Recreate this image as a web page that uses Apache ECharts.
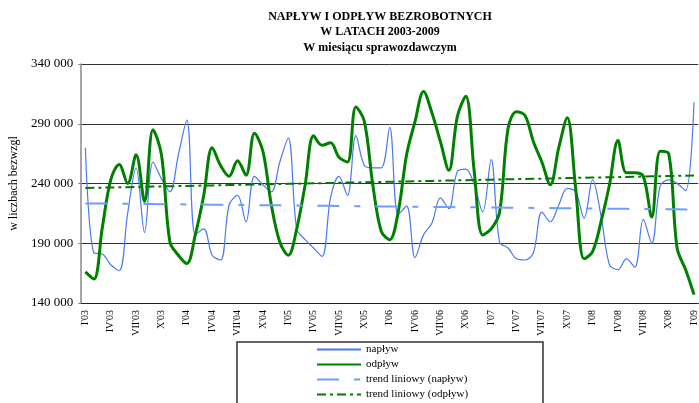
<!DOCTYPE html>
<html>
<head>
<meta charset="utf-8">
<script src="https://cdn.jsdelivr.net/npm/echarts@6/dist/echarts.min.js"></script>
<style>
html, body { margin: 0; padding: 0; background: #fff; }
#chart { width: 699px; height: 403px; }
</style>
</head>
<body>
<div id="chart"></div>
<script>
// miesiace (rzymskie) i lata na osi X: I'03 ... I'09
var romanMonths = ['I', 'II', 'III', 'IV', 'V', 'VI', 'VII', 'VIII', 'IX', 'X', 'XI', 'XII'];
var years = ['03', '04', '05', '06', '07', '08', '09'];

// napływ bezrobotnych, w tys.
var naplyw = [
	270, 182, 181, 172, 167, 215, 253, 199, 258, 244, 233, 264,
	293, 197, 202, 180, 176, 222, 230, 208, 246, 239, 233, 258,
	278, 202, 193, 186, 179, 228, 246, 230, 280, 255, 253, 253,
	287, 214, 221, 178, 197, 207, 228, 219, 250, 252, 239, 216,
	260, 191, 186, 177, 176, 182, 216, 208, 222, 236, 233, 211,
	243, 213, 172, 168, 177, 170, 210, 190, 238, 243, 240, 234,
	308
];

// odpływ bezrobotnych, w tys.
var odplyw = [
	166, 160, 203, 243, 256, 240, 264, 225, 285, 264, 191, 180,
	173, 197, 230, 270, 255, 246, 259, 247, 282, 267, 222, 191,
	180, 202, 239, 280, 272, 274, 262, 258, 304, 292, 239, 200,
	193, 216, 264, 292, 317, 299, 275, 251, 296, 313, 250, 197,
	202, 216, 286, 300, 297, 275, 258, 239, 270, 295, 236, 177,
	183, 208, 239, 276, 249, 249, 246, 212, 267, 265, 186, 168,
	147
];

var categories = [];
for (var y = 0; y < years.length; y++) {
	for (var m = 0; m < 12; m++) {
		if (categories.length >= naplyw.length) break;
		categories.push(romanMonths[m] + "'" + years[y]);
	}
}

function toValues(arr) {
	return arr.map(function(v) { return v * 1000; });
}

// trend liniowy (metoda najmniejszych kwadratów), jak w Excelu
function linearTrend(arr) {
	var n = arr.length, mx = 0, my = 0, sxy = 0, sxx = 0;
	for (var i = 0; i < n; i++) { mx += i; my += arr[i]; }
	mx /= n; my /= n;
	for (var j = 0; j < n; j++) {
		sxy += (j - mx) * (arr[j] - my);
		sxx += (j - mx) * (j - mx);
	}
	var b = sxy / sxx, a = my - b * mx;
	return arr.map(function(v, k) { return a + b * k; });
}

var font = '"Liberation Serif", "Times New Roman", serif';

var chart = echarts.init(document.getElementById('chart'));
var option = {
	animation: false,
	backgroundColor: '#fff',
	title: {
		text: 'NAPŁYW I ODPŁYW BEZROBOTNYCH\nW LATACH 2003-2009\nW miesiącu sprawozdawczym',
		left: 380,
		textAlign: 'center',
		top: 9,
		padding: 0,
		textStyle: {
			fontFamily: font,
			fontSize: 12,
			fontWeight: 'bold',
			lineHeight: 15.5,
			color: '#000'
		}
	},
	legend: {
		orient: 'vertical',
		left: 316,
		top: 344,
		padding: 0,
		itemWidth: 44,
		itemHeight: 10,
		itemGap: 4,
		itemStyle: { opacity: 0 },
		textStyle: { fontFamily: font, fontSize: 11, lineHeight: 11, color: '#000' },
		data: ['napływ', 'odpływ', 'trend liniowy (napływ)', 'trend liniowy (odpływ)']
	},
	graphic: [{
		type: 'rect',
		shape: { x: 237, y: 342, width: 306, height: 70 },
		style: { fill: 'none', stroke: '#333', lineWidth: 1.5 },
		silent: true
	}],
	grid: {
		left: 81,
		top: 64,
		width: 620,
		height: 239
	},
	xAxis: {
		type: 'category',
		data: categories,
		boundaryGap: true,
		axisLine: { lineStyle: { color: '#222', width: 1.2 } },
		axisTick: { interval: 0, length: 5, lineStyle: { color: '#222' } },
		axisLabel: {
			interval: 2,
			rotate: 90,
			margin: 7,
			fontFamily: font,
			fontSize: 10,
			color: '#000'
		},
		splitLine: { show: false }
	},
	yAxis: {
		type: 'value',
		min: 140000,
		max: 340000,
		interval: 50000,
		name: 'w liczbach bezwzgl',
		nameLocation: 'middle',
		nameRotate: 90,
		nameGap: 60,
		nameTextStyle: { fontFamily: font, fontSize: 12, color: '#000' },
		axisLine: { show: true, lineStyle: { color: '#888', width: 1.5 } },
		axisTick: { show: true, length: 3, lineStyle: { color: '#888' } },
		axisLabel: {
			margin: 8,
			fontFamily: font,
			fontSize: 13,
			color: '#000',
			formatter: function(v) {
				return String(v).replace(/\B(?=(\d{3})+(?!\d))/g, ' ');
			}
		},
		splitLine: { lineStyle: { color: '#333', width: 1 } }
	},
	series: [{
		name: 'napływ',
		type: 'line',
		data: toValues(naplyw),
		smooth: 0.35,
		symbol: 'none',
		lineStyle: { color: '#4a78f5', width: 1.2 },
		itemStyle: { color: '#4a78f5' }
	}, {
		name: 'odpływ',
		type: 'line',
		data: toValues(odplyw),
		smooth: 0.35,
		symbol: 'none',
		lineStyle: { color: '#008000', width: 3 },
		itemStyle: { color: '#008000' }
	}, {
		name: 'trend liniowy (napływ)',
		type: 'line',
		data: toValues(linearTrend(naplyw)),
		symbol: 'none',
		lineStyle: { color: '#6f9cff', width: 2, type: [22, 15, 6, 15] },
		itemStyle: { color: '#6f9cff' }
	}, {
		name: 'trend liniowy (odpływ)',
		type: 'line',
		data: toValues(linearTrend(odplyw)),
		symbol: 'none',
		lineStyle: { color: '#007a00', width: 2, type: [9, 4, 3, 4] },
		itemStyle: { color: '#007a00' }
	}]
};
chart.setOption(option);
</script>
</body>
</html>
